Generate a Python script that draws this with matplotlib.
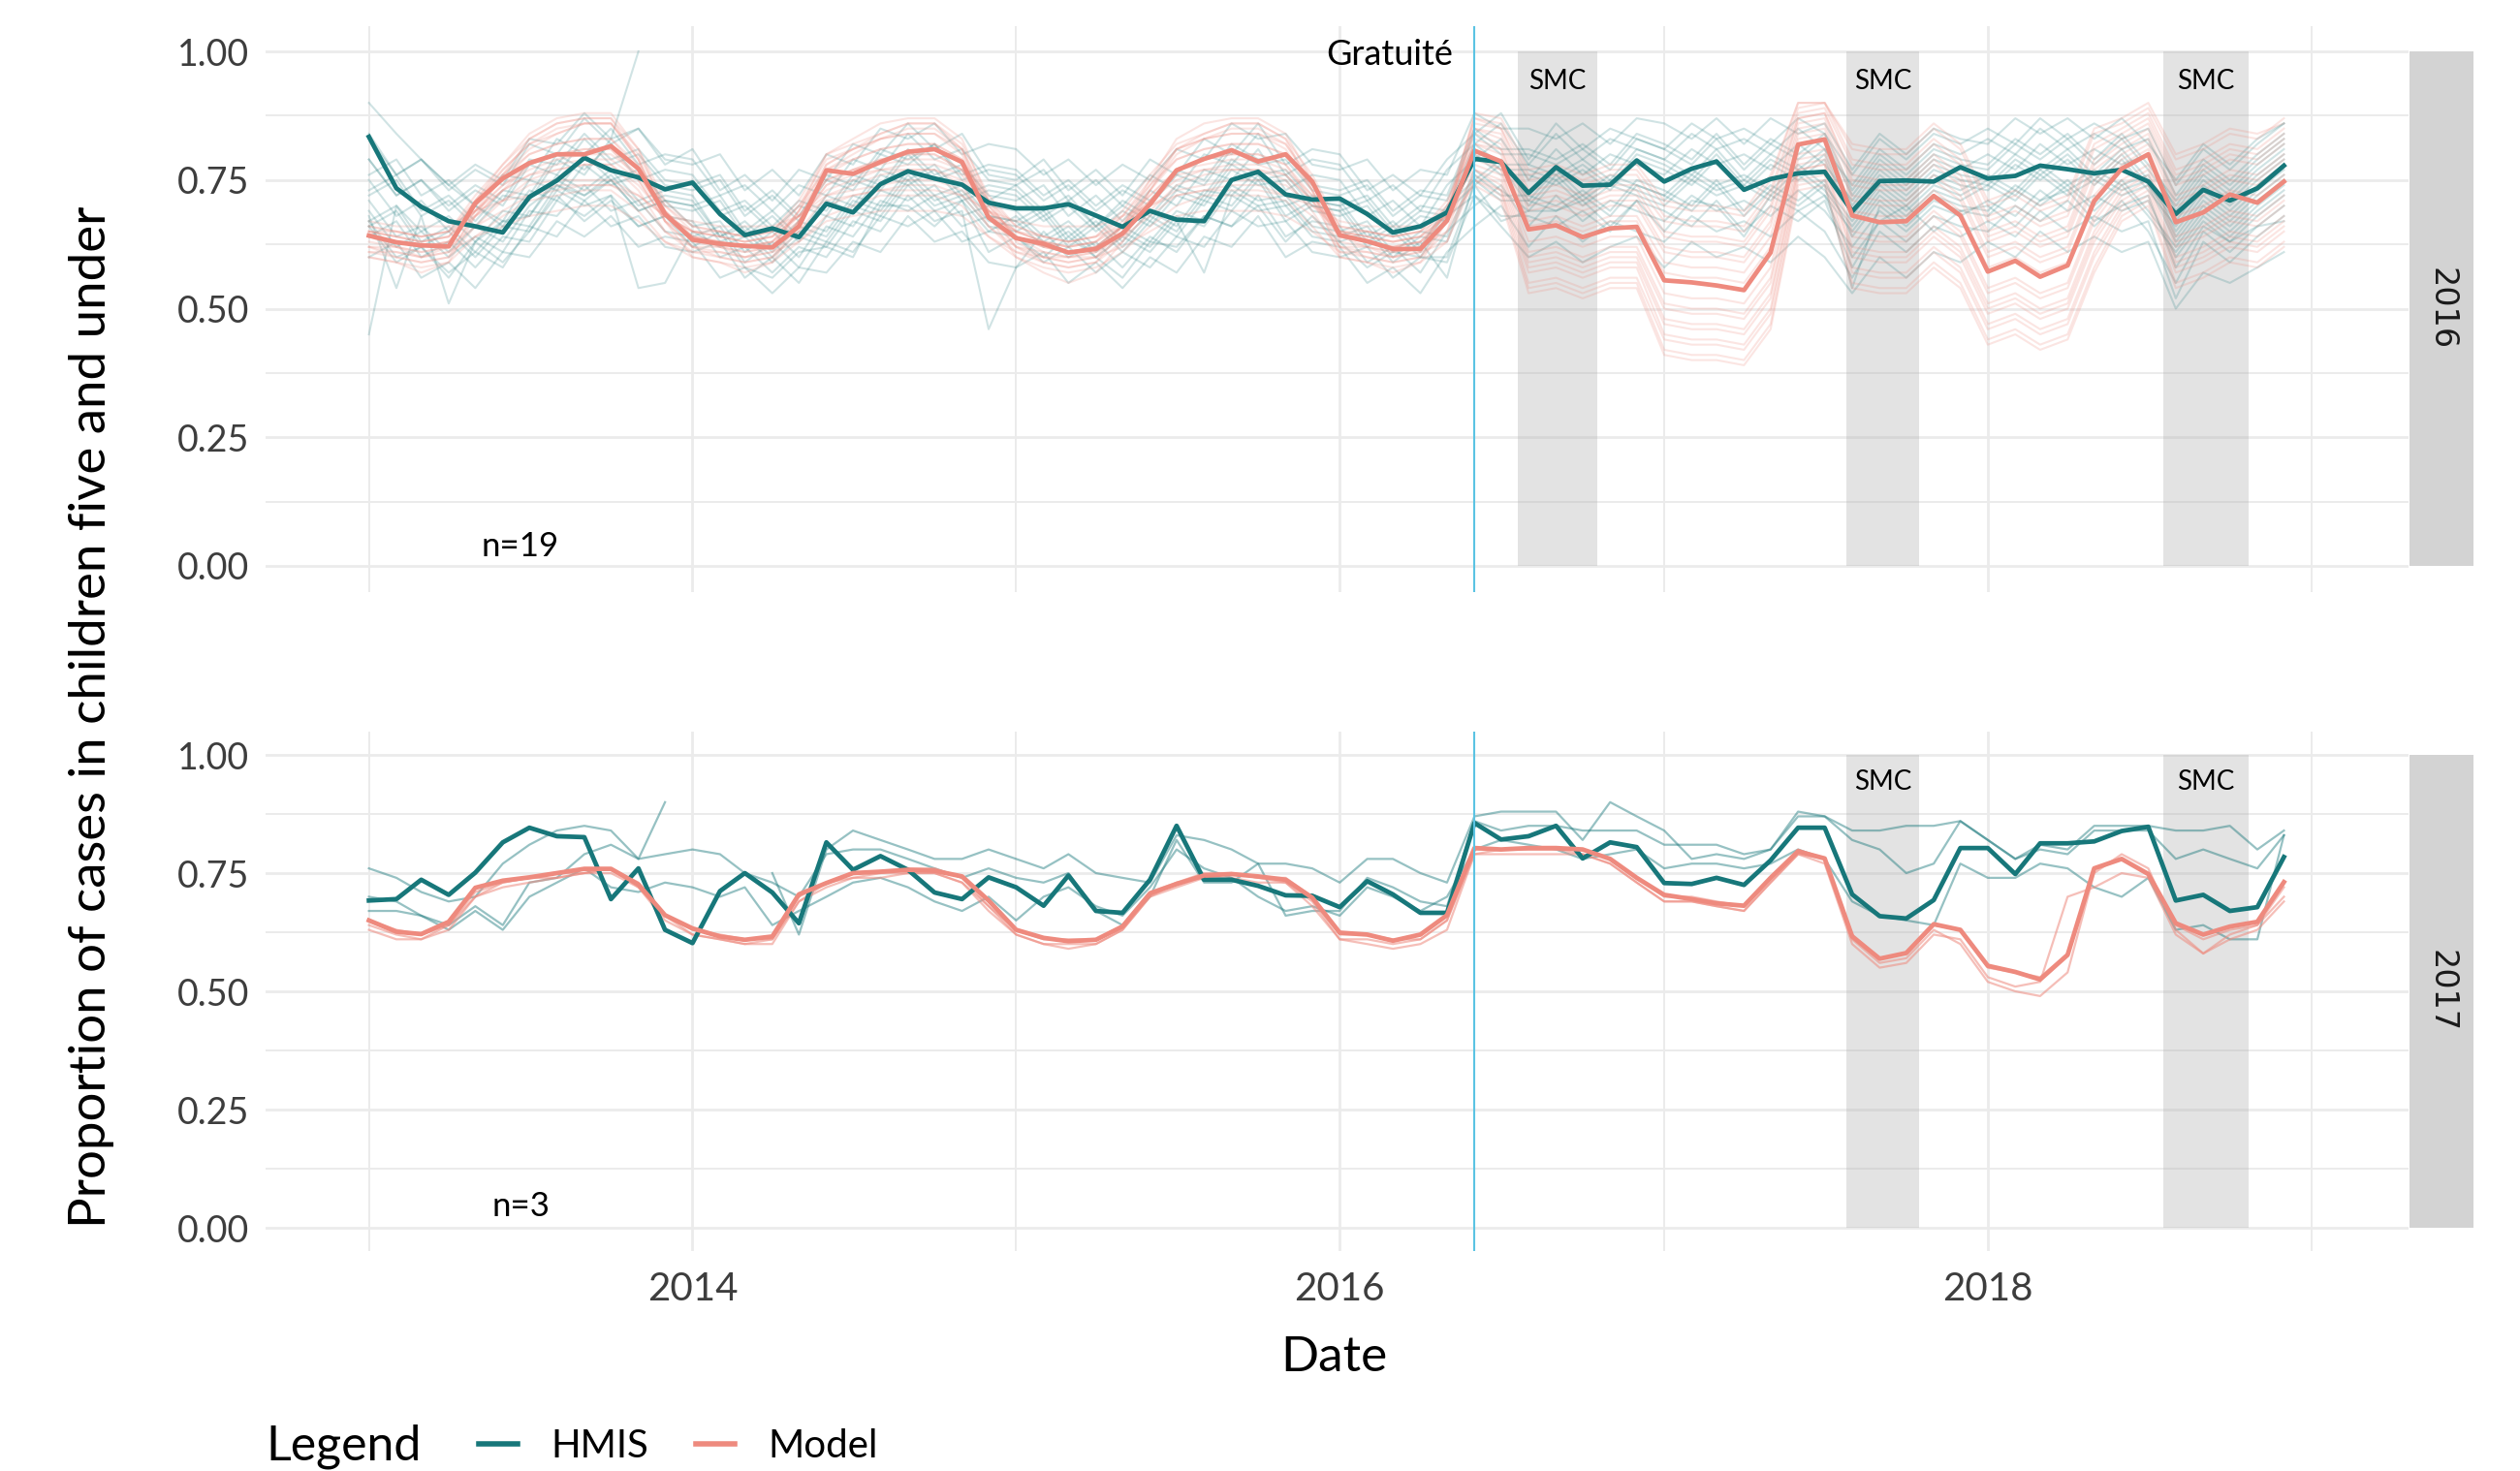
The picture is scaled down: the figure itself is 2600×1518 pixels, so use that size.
import numpy as np
import pandas as pd
import matplotlib
matplotlib.use("Agg")
import matplotlib.pyplot as plt
import matplotlib.dates as mdates
import matplotlib.transforms as mtransforms
from matplotlib.lines import Line2D
from matplotlib.patches import Rectangle

plt.rcParams['font.family'] = ['Lato', 'DejaVu Sans']

nan = np.nan
months = pd.date_range("2013-01-01", periods=72, freq="MS")

# ---------------- thick (aggregate) series ----------------
top_hmis_mean = [0.834,0.734,0.698,0.670,0.660,0.648,0.717,0.749,0.793,0.769,0.755,0.732,
                 0.745,0.684,0.643,0.656,0.639,0.704,0.687,0.742,0.767,0.753,0.741,0.706,
                 0.695,0.695,0.703,0.681,0.659,0.690,0.673,0.670,0.750,0.766,0.722,0.712,
                 0.714,0.684,0.648,0.660,0.687,0.791,0.785,0.725,0.775,0.739,0.741,0.788,
                 0.747,0.772,0.786,0.731,0.752,0.763,0.766,0.689,0.748,0.749,0.747,0.775,
                 0.753,0.758,0.778,0.771,0.763,0.770,0.747,0.684,0.731,0.710,0.734,0.778]
top_model_mean = [0.642,0.629,0.623,0.621,0.705,0.753,0.783,0.800,0.800,0.816,0.772,0.684,
                  0.634,0.626,0.622,0.619,0.660,0.769,0.762,0.785,0.805,0.810,0.785,0.677,
                  0.637,0.626,0.609,0.616,0.646,0.703,0.769,0.791,0.808,0.786,0.800,0.747,
                  0.643,0.631,0.616,0.616,0.671,0.807,0.786,0.654,0.662,0.639,0.656,0.659,
                  0.555,0.551,0.545,0.536,0.609,0.819,0.829,0.681,0.668,0.670,0.719,0.681,
                  0.572,0.593,0.562,0.584,0.709,0.772,0.800,0.668,0.687,0.722,0.706,0.747]
bot_hmis_mean = [0.692,0.695,0.736,0.704,0.751,0.815,0.846,0.828,0.826,0.695,0.760,0.630,
                 0.602,0.712,0.750,0.709,0.644,0.815,0.757,0.786,0.757,0.709,0.695,0.741,
                 0.720,0.681,0.745,0.670,0.666,0.736,0.850,0.736,0.736,0.723,0.703,0.702,
                 0.678,0.733,0.705,0.666,0.666,0.856,0.821,0.828,0.850,0.781,0.815,0.805,
                 0.729,0.727,0.740,0.725,0.777,0.846,0.846,0.705,0.659,0.654,0.693,0.803,
                 0.803,0.748,0.813,0.813,0.817,0.839,0.848,0.692,0.704,0.670,0.678,0.784]
bot_model_mean = [0.650,0.626,0.621,0.647,0.719,0.734,0.741,0.750,0.759,0.759,0.726,0.661,
                  0.633,0.616,0.609,0.616,0.705,0.729,0.750,0.753,0.757,0.755,0.743,0.692,
                  0.630,0.613,0.606,0.609,0.637,0.707,0.727,0.745,0.748,0.743,0.736,0.698,
                  0.624,0.620,0.607,0.620,0.661,0.803,0.800,0.803,0.803,0.800,0.780,0.740,
                  0.704,0.695,0.686,0.681,0.740,0.796,0.781,0.616,0.569,0.581,0.642,0.630,
                  0.554,0.541,0.525,0.577,0.760,0.780,0.748,0.644,0.620,0.637,0.647,0.731]

# ---------------- district series, 2016 group (percent) ----------------
top_model_d01 = [60,59,57,59,68,76,83,86,87,87,79,67,60,59,57,59,67,78,81,84,86,86,81,68,60,57,55,57,63,73,81,84,86,86,83,73,60,59,57,59,67,
                 74,71,53,54,52,54,54,41,40,40,39,46,73,74,54,53,53,58,54,43,45,42,44,57,67,70,54,56,59,58,62]
top_model_d02 = [63,62,60,62,71,78,84,87,88,88,81,69,63,62,60,62,69,80,83,86,87,87,83,71,63,60,59,60,66,75,83,86,87,87,84,75,63,62,60,62,69,
                 87,86,76,77,75,77,77,70,69,69,68,75,90,90,81,80,80,85,81,70,72,69,71,84,86,89,79,81,84,83,87]
top_model_d03 = [62,60,59,60,69,76,81,84,86,86,79,67,62,60,59,60,67,77,80,83,84,84,80,69,62,59,58,59,65,73,80,83,84,84,81,73,62,60,59,60,67,
                 76,73,57,58,56,58,58,45,44,44,43,50,76,77,58,57,57,62,58,47,49,46,48,61,70,73,58,60,63,62,66]
top_model_d04 = [64,62,61,62,70,77,82,84,86,86,79,69,64,62,61,62,69,78,81,83,84,84,81,70,64,61,60,61,66,74,81,83,84,84,82,74,64,62,61,62,69,
                 85,84,72,73,71,73,73,65,64,64,63,70,87,88,76,75,75,80,76,65,67,64,66,79,83,86,75,77,80,79,83]
top_model_d05 = [65,64,63,64,71,77,82,85,86,86,80,70,65,64,63,64,70,79,81,83,85,85,81,71,65,63,62,63,68,75,81,83,85,85,82,75,65,64,63,64,70,
                 77,75,59,60,58,60,60,48,47,47,46,53,77,78,61,60,60,65,61,50,52,49,51,64,72,75,60,62,65,64,68]
top_model_d06 = [64,63,62,63,70,75,80,82,83,83,77,69,64,63,62,63,69,76,79,81,82,82,79,70,64,62,61,62,66,73,79,81,82,82,80,73,64,63,62,63,69,
                 84,82,70,71,69,71,71,62,61,61,60,67,86,87,74,73,73,78,74,63,65,62,64,77,81,84,72,74,77,76,80]
top_model_d07 = [62,61,60,61,68,73,78,80,81,81,75,67,62,61,60,61,67,74,77,79,80,80,77,68,62,60,59,60,64,71,77,79,80,80,78,71,62,61,60,61,67,
                 79,77,61,62,60,62,62,51,50,50,49,56,79,80,64,63,63,68,64,53,55,52,54,67,74,77,63,65,68,67,71]
top_model_d08 = [66,65,64,65,71,76,80,82,83,83,78,70,66,65,64,65,70,77,79,81,82,82,79,71,66,64,63,64,68,74,79,81,82,82,80,74,66,65,64,65,70,
                 87,85,75,76,74,76,76,68,67,67,66,73,89,90,79,78,78,83,79,68,70,67,69,82,85,88,77,79,82,81,85]
top_model_d09 = [61,60,59,60,66,71,75,77,78,78,73,65,61,60,59,60,65,72,74,76,77,77,74,66,61,59,58,59,63,69,74,76,77,77,75,69,61,60,59,60,65,
                 75,73,55,56,54,56,56,44,43,43,42,49,75,76,57,56,56,61,57,46,48,45,47,60,69,72,57,59,62,61,65]
top_model_d10 = [64,63,62,63,68,73,76,78,79,79,75,67,64,63,62,63,67,74,76,77,78,78,76,68,64,62,61,62,66,71,76,77,78,78,76,71,64,63,62,63,67,
                 82,81,67,68,66,68,68,59,58,58,57,64,84,85,71,70,70,75,71,60,62,59,61,74,79,82,70,72,75,74,78]
top_model_d11 = [65,64,63,64,69,74,77,79,80,80,76,68,65,64,63,64,68,75,77,78,79,79,77,69,65,63,62,63,67,72,77,78,79,79,77,72,65,64,63,64,68,
                 88,87,77,78,76,78,78,71,70,70,69,76,90,90,82,81,81,86,82,71,73,70,72,85,87,90,80,82,85,84,86]
top_model_d12 = [60,59,58,59,64,68,71,72,73,73,69,63,60,59,58,59,63,68,70,72,72,72,70,64,60,58,57,58,61,66,70,72,72,72,71,66,60,59,58,59,63,
                 77,74,58,59,57,59,59,47,46,46,45,52,77,78,60,59,59,64,60,49,51,48,50,63,71,74,59,61,64,63,67]
top_model_d13 = [65,64,63,64,69,73,76,77,78,78,74,68,65,64,63,64,68,73,75,77,77,77,75,69,65,63,62,63,66,71,75,77,77,77,76,71,65,64,63,64,68,
                 85,83,71,72,70,72,72,64,63,63,62,69,87,88,75,74,74,79,75,64,66,63,65,78,82,85,74,76,79,78,82]
top_model_d14 = [62,62,61,62,66,69,72,74,74,74,71,65,62,62,61,62,65,70,72,73,74,74,72,66,62,61,60,61,64,68,72,73,74,74,72,68,62,62,61,62,65,
                 80,77,63,64,62,64,64,53,52,52,51,58,80,81,65,64,64,69,65,54,56,53,55,68,75,78,64,66,69,68,72]
top_model_d15 = [65,65,64,65,68,71,74,75,75,75,72,68,65,65,64,65,68,72,73,74,75,75,73,68,65,64,63,64,66,70,73,74,75,75,74,70,65,65,64,65,68,
                 86,85,73,74,72,74,74,67,66,66,65,72,88,89,78,77,77,82,78,67,69,66,68,81,84,87,76,78,81,80,84]
top_model_d16 = [61,61,60,61,64,66,68,69,70,70,67,63,61,61,60,61,63,67,68,69,69,69,68,64,61,60,60,60,62,65,68,69,69,69,68,65,61,61,60,61,63,
                 75,72,54,55,53,55,55,42,41,41,40,47,74,75,55,54,54,59,55,44,46,43,45,58,68,71,55,57,60,59,63]
top_model_d17 = [66,65,64,65,72,78,83,86,87,87,81,71,66,65,64,65,71,80,82,84,86,86,82,72,66,64,63,64,69,76,82,84,86,86,83,76,66,65,64,65,71,
                 82,80,66,67,65,67,67,57,56,56,55,62,83,84,69,68,68,73,69,58,60,57,59,72,78,81,68,70,73,72,76]
top_model_d18 = [64,63,62,63,69,74,78,80,81,81,76,68,64,63,62,63,68,75,77,79,80,80,77,69,64,62,61,62,66,72,77,79,80,80,78,72,64,63,62,63,68,
                 83,81,69,70,68,70,70,61,60,60,59,66,85,86,72,71,71,76,72,61,63,60,62,75,80,83,71,73,76,75,79]
top_model_d19 = [67,66,66,66,69,71,72,73,74,74,72,68,67,66,66,66,68,71,72,73,73,73,72,69,67,66,66,66,68,70,72,73,73,73,72,70,67,66,66,66,68,
                 78,76,60,61,59,61,61,50,49,49,48,55,78,79,62,61,61,66,62,51,53,50,52,65,73,76,62,64,67,66,70]

top_hmis_d01 = [67,60,62,56,63,59,65,72,67,71,66,68,62,65,58,56,61,62,60,70,70,66,71,61,64,60,64,60,56,63,62,68,66,70,63,68,63,58,61,60,60,74,67,69,69,71,66,71,65,71,70,64,72,69,72,60,67,70,65,69,70,66,71,73,67,70,72,58,66,63,66,67]
top_hmis_d02 = [84,76,79,73,77,74,82,80,87,82,85,78,81,73,76,71,77,75,82,80,86,81,84,76,75,79,73,77,72,79,76,83,80,86,78,81,80,73,76,72,79,84,88,79,86,81,85,83,81,86,83,85,82,87,84,76,83,79,84,82,85,82,87,83,86,83,85,74,81,77,82,86]
top_hmis_d03 = [71,64,66,61,66,63,70,74,72,75,69,71,66,67,61,65,60,68,66,73,71,74,68,70,69,64,67,62,66,63,69,67,74,71,72,66,65,67,61,65,64,77,73,69,75,70,74,72,70,75,72,74,71,76,72,65,72,68,73,71,74,71,76,72,75,72,74,63,70,66,71,75]
top_hmis_d04 = [79,72,75,69,73,70,78,76,83,78,80,74,73,75,68,72,67,75,73,80,78,82,75,77,76,71,74,69,73,70,76,74,81,78,79,73,72,74,68,72,71,84,80,80,78,81,77,83,81,78,83,77,82,79,83,72,79,75,80,78,77,82,79,83,78,83,77,70,77,73,78,82]
top_hmis_d05 = [45,70,65,68,63,69,68,76,73,77,71,73,72,64,67,62,67,65,72,70,77,72,74,68,67,70,64,68,63,69,66,73,72,77,70,72,71,64,67,62,70,75,79,71,77,72,76,74,72,77,74,76,73,78,74,67,74,70,75,73,76,73,78,74,77,74,76,65,72,68,73,77]
top_hmis_d06 = [72,75,68,71,66,72,71,79,76,83,100,nan,75,68,70,65,70,68,75,73,80,75,77,71,74,69,72,66,71,68,74,72,79,76,77,71,70,72,66,70,69,82,78,78,76,79,75,81,79,76,81,75,80,77,81,70,77,73,78,76,75,80,77,81,76,81,75,68,75,71,76,80]
top_hmis_d07 = [90,84,79,74,70,66,73,71,78,74,76,70,69,71,64,68,63,71,69,76,74,77,71,73,72,67,70,65,69,66,72,70,77,74,75,69,68,70,64,68,67,80,76,76,74,77,73,79,77,74,79,73,78,75,79,68,75,71,76,74,73,78,75,79,74,79,73,66,73,69,74,78]
top_hmis_d08 = [64,67,60,63,58,64,63,71,68,72,66,68,67,60,62,57,62,60,67,65,72,67,69,46,58,65,60,63,58,64,61,68,66,72,64,67,66,59,62,57,65,70,74,66,72,67,71,69,67,72,69,71,68,73,69,62,69,65,70,68,71,68,73,69,72,69,71,60,67,63,68,72]
top_hmis_d09 = [76,79,72,75,70,76,75,83,80,85,78,80,79,72,74,69,74,72,79,77,84,79,81,75,74,77,71,75,70,76,73,80,78,84,76,79,78,71,74,69,77,82,86,78,84,79,83,81,79,84,81,83,80,85,81,74,81,77,82,80,83,80,85,81,84,81,83,72,79,75,80,84]
top_hmis_d10 = [68,54,68,51,63,67,68,75,72,76,70,72,71,64,66,61,66,64,71,69,76,71,73,67,66,69,63,67,62,68,65,72,70,76,68,71,70,63,66,61,69,74,78,70,76,71,75,73,71,76,73,75,72,77,73,66,73,69,74,72,75,72,77,73,76,73,75,64,71,67,72,76]
top_hmis_d11 = [75,68,71,65,70,67,75,73,80,75,77,71,70,72,65,69,64,72,70,77,75,78,72,74,73,68,71,66,70,67,73,71,78,75,76,70,69,71,65,69,68,81,77,77,75,78,74,80,78,75,80,74,79,76,80,69,76,72,77,75,74,79,76,80,75,80,74,67,74,70,75,79]
top_hmis_d12 = [66,69,62,65,60,66,65,73,70,72,54,55,65,62,64,59,64,62,69,67,74,69,71,65,68,63,66,61,65,62,68,66,73,70,71,65,64,66,60,64,63,76,72,72,70,73,69,75,73,70,75,69,74,71,75,64,71,67,72,70,69,74,71,75,70,75,69,62,69,65,70,74]
top_hmis_d13 = [73,76,69,72,67,73,72,80,77,82,75,77,76,69,71,66,71,69,76,74,81,76,78,72,71,74,68,72,67,73,70,77,75,81,73,76,75,68,71,66,74,79,83,75,81,76,80,78,76,81,78,80,77,82,78,71,78,74,79,77,80,77,82,78,81,78,80,69,76,72,77,81]
top_hmis_d14 = [69,62,65,60,64,61,69,68,74,69,71,65,64,66,59,63,58,66,64,71,69,72,66,68,67,62,65,60,64,61,67,57,72,69,70,64,63,65,59,63,56,75,71,71,69,72,68,74,72,69,74,68,73,70,74,54,70,66,71,69,68,73,70,74,69,74,68,61,68,64,69,73]
top_hmis_d15 = [79,72,75,70,74,71,79,78,84,79,81,75,74,76,69,73,68,76,74,81,79,82,76,78,77,72,75,70,74,71,77,75,82,79,80,74,73,75,69,73,72,85,81,81,79,82,78,84,82,79,84,78,83,80,84,73,80,76,81,79,78,83,80,84,79,84,78,71,78,74,79,83]
top_hmis_d16 = [60,63,56,59,54,61,60,67,64,68,62,64,63,56,58,53,58,57,63,61,68,63,65,59,58,61,55,59,54,60,57,64,62,68,60,63,62,55,58,53,61,66,70,62,68,63,67,65,63,68,65,67,64,69,65,56,65,61,66,64,67,64,69,65,68,65,67,52,63,59,64,68]
top_hmis_d17 = [66,59,62,57,61,58,66,64,71,66,68,62,61,63,56,60,55,63,61,68,66,69,63,65,64,59,62,57,61,58,64,62,69,66,67,61,60,62,56,60,59,72,68,68,66,69,65,71,69,66,71,65,70,67,71,58,67,63,68,66,65,70,67,71,66,71,65,55,65,61,66,70]
top_hmis_d18 = [83,76,79,74,78,75,83,82,88,83,85,79,78,80,73,77,72,80,78,85,83,86,80,82,81,76,79,74,78,75,81,79,86,83,84,78,77,79,73,77,76,88,85,85,83,86,82,87,86,83,87,82,87,84,86,77,84,80,85,83,82,87,84,87,83,87,82,75,82,78,83,86]
top_hmis_d19 = [67,70,63,66,61,67,66,74,71,75,69,71,70,63,65,60,65,63,70,68,75,70,72,66,65,68,62,66,61,67,64,71,69,75,67,70,69,62,65,60,68,72,66,60,63,59,62,64,58,63,60,62,59,64,60,53,60,56,61,59,63,60,65,61,64,61,63,50,57,55,58,61]

# ---------------- district series, 2017 group (percent) ----------------
bot_hmis_d01 = [76,74,71,69,70,77,81,84,85,84,78,90,nan,nan,nan,75,62,80,84,82,80,78,78,80,78,76,79,75,74,73,83,82,80,77,77,76,73,78,78,75,73,87,88,88,88,82,90,87,84,78,79,78,80,88,87,84,84,85,85,86,82,78,81,80,85,85,85,84,84,85,80,84]
bot_hmis_d02 = [70,69,66,64,68,64,73,74,79,81,78,79,80,79,75,73,70,79,80,80,78,76,74,76,74,73,75,67,64,70,82,73,73,77,66,67,67,74,72,69,68,86,84,85,85,84,84,84,81,81,81,79,80,87,87,82,80,75,77,86,82,78,80,79,84,84,84,78,80,78,76,83]
bot_hmis_d03 = [67,67,66,63,67,63,70,73,76,72,71,73,72,70,72,64,67,70,73,74,72,69,67,70,65,70,72,68,66,72,80,76,74,70,67,68,66,72,70,67,70,80,82,81,80,78,79,80,76,77,77,76,77,80,78,69,66,65,64,77,74,74,77,76,72,70,74,63,64,61,61,83]
bot_model_d01 = [64,62,61,63,70,72,73,74,75,76,72,66,62,61,60,61,69,72,74,74,75,75,73,68,62,60,60,60,63,70,72,74,74,73,73,69,61,61,60,61,65,79,79,79,79,79,77,73,69,69,68,67,73,79,77,60,55,56,62,61,53,51,52,70,72,75,74,62,58,61,63,69]
bot_model_d02 = [63,61,61,64,70,73,74,74,75,75,72,65,62,61,60,60,69,73,74,75,75,75,73,67,62,60,59,60,63,70,73,74,75,74,73,68,61,60,59,60,63,79,80,80,80,79,77,73,69,69,68,67,73,79,78,61,56,57,63,60,52,50,49,54,75,79,76,63,58,62,64,70]
bot_model_d03 = [65,63,62,64,71,73,74,75,75,76,73,66,63,62,61,61,70,73,75,75,76,76,74,68,63,61,61,61,64,71,73,75,75,74,74,70,62,62,61,61,65,80,80,80,80,80,78,74,70,70,69,68,74,80,78,62,57,58,64,63,55,54,53,58,76,78,75,64,61,63,64,72]

# ---------------- annotations / labels ----------------
gratuite_date = "2016-06-01"
smc_2016 = ("2016-07-20", "2016-10-18")
smc_2017 = ("2017-07-26", "2017-10-16")
smc_2018 = ("2018-07-18", "2018-10-22")
y_ticks = [0.0, 0.25, 0.5, 0.75, 1.0]
y_minor = [0.125, 0.375, 0.625, 0.875]
y_ticklabels = ["0.00", "0.25", "0.50", "0.75", "1.00"]
panel_labels = ["2016", "2017"]
n_labels = ["n=19", "n=3"]
legend_labels = ["HMIS", "Model"]

TEAL = "#17777A"
SALMON = "#EE8A7E"
VLINE = "#5BC3E3"
GRID = "#EBEBEB"
SHADE = "#B0B0B0"
STRIP = "#D3D3D3"

top_hmis_lines = [top_hmis_d01, top_hmis_d02, top_hmis_d03, top_hmis_d04, top_hmis_d05, top_hmis_d06,
                  top_hmis_d07, top_hmis_d08, top_hmis_d09, top_hmis_d10, top_hmis_d11, top_hmis_d12,
                  top_hmis_d13, top_hmis_d14, top_hmis_d15, top_hmis_d16, top_hmis_d17, top_hmis_d18, top_hmis_d19]
top_model_lines = [top_model_d01, top_model_d02, top_model_d03, top_model_d04, top_model_d05, top_model_d06,
                   top_model_d07, top_model_d08, top_model_d09, top_model_d10, top_model_d11, top_model_d12,
                   top_model_d13, top_model_d14, top_model_d15, top_model_d16, top_model_d17, top_model_d18, top_model_d19]
bot_hmis_lines = [bot_hmis_d01, bot_hmis_d02, bot_hmis_d03]
bot_model_lines = [bot_model_d01, bot_model_d02, bot_model_d03]

W, H = 2600, 1518
fig = plt.figure(figsize=(26, 15.18), dpi=100)
ax_top = fig.add_axes([273.6 / W, 1 - 610.5 / H, 2210.9 / W, 584.0 / H])
ax_bot = fig.add_axes([273.6 / W, 1 - 1291.4 / H, 2210.9 / W, 536.8 / H])


def draw_panel(ax, hmis_lines, model_lines, hmis_mean, model_mean, smcs, n_label,
               strip_label, a_h, a_m, lw_thin, show_x, gratuite_text, n_y):
    ax.set_axisbelow(True)
    for s in ax.spines.values():
        s.set_visible(False)
    ax.set_xlim(pd.Timestamp("2012-09-06"), pd.Timestamp("2019-04-20"))
    ax.set_ylim(-0.05, 1.05)
    ax.xaxis.set_major_locator(mdates.YearLocator(2))
    ax.xaxis.set_minor_locator(mdates.YearLocator(1))
    ax.xaxis.set_major_formatter(mdates.DateFormatter("%Y"))
    ax.set_yticks(y_ticks)
    ax.set_yticks(y_minor, minor=True)
    ax.set_yticklabels(y_ticklabels)
    ax.grid(which="major", color=GRID, lw=2.0)
    ax.grid(which="minor", color=GRID, lw=1.4)
    ax.tick_params(which="both", length=0, labelsize=27, labelcolor="#3D3D3D", pad=12)
    ax.tick_params(axis="x", labelbottom=show_x, labelsize=29, pad=15)

    for (s, e) in smcs:
        ax.fill_betweenx([0, 1], pd.Timestamp(s), pd.Timestamp(e), color=SHADE,
                         alpha=0.35, lw=0, zorder=1)
        mid = pd.Timestamp(s) + (pd.Timestamp(e) - pd.Timestamp(s)) / 2
        ax.text(mid, 0.927, "SMC", ha="center", va="baseline", fontsize=20, zorder=6)

    for vals in hmis_lines:
        ax.plot(months, np.array(vals, dtype=float) / 100, color=TEAL, alpha=a_h,
                lw=lw_thin, zorder=2)
    for vals in model_lines:
        ax.plot(months, np.array(vals, dtype=float) / 100, color=SALMON, alpha=a_m,
                lw=lw_thin, zorder=2)
    ax.plot(months, hmis_mean, color=TEAL, lw=3.4, zorder=3)
    ax.plot(months, model_mean, color=SALMON, lw=3.4, zorder=3)

    ax.axvline(pd.Timestamp(gratuite_date), color=VLINE, lw=1.5, zorder=4)
    if gratuite_text:
        ax.text(pd.Timestamp("2016-05-08"), 0.974, gratuite_text, ha="right",
                va="baseline", fontsize=26, zorder=6)
    ax.text(pd.Timestamp("2013-06-21"), n_y, n_label, ha="center", va="baseline",
            fontsize=25, zorder=6)

    trans = mtransforms.blended_transform_factory(ax.transAxes, ax.transData)
    ax.add_patch(Rectangle((1.0007, 0), 0.0298, 1, transform=trans, facecolor=STRIP,
                           edgecolor="none", clip_on=False))
    ax.text(1.0156, 0.5, strip_label, transform=trans, rotation=-90, ha="center",
            va="center", fontsize=24, color="#1A1A1A", family="DejaVu Sans")


draw_panel(ax_top, top_hmis_lines, top_model_lines, top_hmis_mean, top_model_mean,
           [smc_2016, smc_2017, smc_2018], n_labels[0], panel_labels[0], 0.2, 0.22, 1.5,
           False, "Gratuité", 0.019)
draw_panel(ax_bot, bot_hmis_lines, bot_model_lines, bot_hmis_mean, bot_model_mean,
           [smc_2017, smc_2018], n_labels[1], panel_labels[1], 0.45, 0.55, 1.6,
           True, None, 0.025)

fig.text(94.5 / W, 1 - 740 / H, "Proportion of cases in children five and under",
         rotation=90, ha="center", va="center", fontsize=38)
fig.text(1376 / W, 1 - 1401 / H, "Date", ha="center", va="center", fontsize=37)

leg_y = 1 - 1493 / H
fig.text(274 / W, leg_y, "Legend", ha="left", va="center", fontsize=36)
handles = [Line2D([], [], color=TEAL, lw=4), Line2D([], [], color=SALMON, lw=4)]
fig.legend(handles, legend_labels, ncol=2, frameon=False, loc="center left",
           bbox_to_anchor=(494 / W, leg_y), handlelength=1.0, handletextpad=0.85,
           columnspacing=1.2, borderpad=0, borderaxespad=0, fontsize=29)

fig.savefig("out.png", dpi=100)
